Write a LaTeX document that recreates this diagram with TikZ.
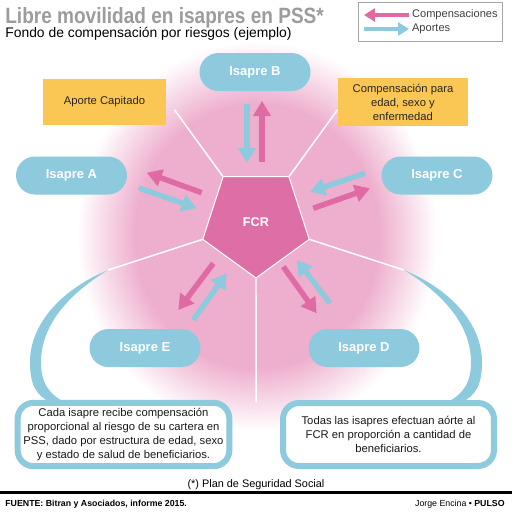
\documentclass[tikz,border=0pt]{standalone}
\usepackage{fontspec}
\usepackage{graphicx}
\setmainfont{Liberation Sans}
\usetikzlibrary{arrows.meta,shapes.geometric,positioning,calc}

\definecolor{isablue}{HTML}{8DCADD}
\definecolor{fcrpink}{HTML}{DE6EA6}
\definecolor{arrowpink}{HTML}{E06AA4}
\definecolor{glowpink}{HTML}{EEAFCE}
\definecolor{notegold}{HTML}{FAC654}
\definecolor{titlegray}{HTML}{9C9C9C}

\pgfdeclareradialshading{fcrglow}{\pgfpoint{0bp}{0bp}}{color(0bp)=(glowpink); color(17bp)=(glowpink); color(25bp)=(white); color(50bp)=(white)}

\begin{document}
\begin{tikzpicture}[x=0.02cm, y=-0.02cm,
    isapre/.style={rectangle, rounded corners=0.38cm, fill=isablue, minimum width=2.22cm, minimum height=0.76cm, text=white, font=\bfseries\fontsize{7.4}{9}\selectfont},
    notebox/.style={rectangle, fill=notegold, minimum height=0.92cm, align=center, text=black!85, font=\fontsize{6.4}{8}\selectfont},
    infobox/.style={rectangle, draw=isablue, line width=0.12cm, rounded corners=0.32cm, fill=white, minimum height=1.26cm, align=center, text=black!90, font=\fontsize{6.4}{7.8}\selectfont},
    comp/.style={arrowpink, line width=0.11cm, -{Triangle[length=0.3cm, width=0.34cm]}},
    aporte/.style={isablue, line width=0.11cm, -{Triangle[length=0.3cm, width=0.34cm]}},
    legcomp/.style={arrowpink, line width=0.08cm, -{Triangle[length=0.22cm, width=0.26cm]}},
    legaporte/.style={isablue, line width=0.08cm, -{Triangle[length=0.22cm, width=0.26cm]}},
    spoke/.style={white, line width=0.03cm},
    legtext/.style={anchor=west, inner sep=1pt, text=black!75, font=\fontsize{6.3}{8}\selectfont}]

    \useasboundingbox (0,0) rectangle (512,512);
    \fill[white] (0,0) rectangle (512,512);

    % pink glow behind the fund
    \shade[shading=fcrglow] (257,236) ellipse [x radius=3.6cm, y radius=3.9cm];

    \node[regular polygon, regular polygon sides=5, shape border rotate=180, minimum size=2.24cm, inner sep=0pt,
          fill=fcrpink, draw=white, line width=0.02cm, text=white, font=\bfseries\fontsize{7.2}{9}\selectfont] (fcr) at (256,222) {FCR};

    \coordinate (spokeL) at ($(fcr.center)!2.75!(fcr.198)$);
    \coordinate (spokeR) at ($(fcr.center)!2.75!(fcr.342)$);
    \draw[spoke] (fcr.126) -- ($(fcr.center)!2.45!(fcr.126)$);
    \draw[spoke] (fcr.54) -- ($(fcr.center)!2.45!(fcr.54)$);
    \draw[spoke] (fcr.198) -- (spokeL);
    \draw[spoke] (fcr.342) -- (spokeR);
    \draw[spoke] (fcr.270) -- ($(fcr.center)!3.18!(fcr.270)$);

    % tapered blue arcs down to the notes
    \fill[isablue] (spokeL) .. controls (60,290) and (30,325) .. (30,362) .. controls (30,385) and (36,395) .. (50,402)
        -- (64,402) .. controls (46,392) and (41,380) .. (41,362) .. controls (41,330) and (62,298) .. (spokeL) -- cycle;
    \fill[isablue] (spokeR) .. controls (452,290) and (482,325) .. (482,362) .. controls (482,385) and (476,395) .. (462,402)
        -- (448,402) .. controls (466,392) and (471,380) .. (471,362) .. controls (471,330) and (450,298) .. (spokeR) -- cycle;

    \node[infobox, minimum width=4.14cm] (notaE) at (123.5,434.5) {Cada isapre recibe compensación\\proporcional al riesgo de su cartera en\\PSS, dado por estructura de edad, sexo\\y estado de salud de beneficiarios.};
    \node[infobox, minimum width=4.22cm] (notaD) at (388.5,434.5) {Todas las isapres efectuan aórte al\\FCR en proporción a cantidad de\\beneficiarios.};

    \node[isapre] (isB) at (255,72) {Isapre B};
    \node[isapre] (isA) at (71.5,175.5) {Isapre A};
    \node[isapre] (isC) at (437,175.5) {Isapre C};
    \node[isapre] (isE) at (145,348) {Isapre E};
    \node[isapre] (isD) at (364,348) {Isapre D};

    \node[notebox, minimum width=2.46cm] (capitado) at (104.5,102) {Aporte Capitado};
    \node[notebox, minimum width=2.6cm] (ajuste) at (403,102) {Compensación para\\edad, sexo y\\enfermedad};

    % flows between the isapres and the fund
    \foreach \xa/\ya/\xb/\yb in {262/162/262/101, 201.7/192.7/146.7/172.7, 313.3/208.3/370/188.3,
                                 213.3/263.3/178.3/310, 283.3/266.7/316.7/313.3}
        \draw[comp] (\xa,\ya) -- (\xb,\yb);
    \foreach \xa/\ya/\xb/\yb in {247/104/247/163, 139/188/196.7/208, 365/173.3/310/191.7,
                                 193.3/320/226.7/273.3, 330/303.3/296.7/260}
        \draw[aporte] (\xa,\ya) -- (\xb,\yb);

    % title
    \node[anchor=base west, inner sep=0pt, text=titlegray, font=\bfseries\fontsize{12.6}{14}\selectfont] (titulo) at (5,23)
        {\scalebox{0.86}[1]{Libre movilidad en isapres en PSS*}};
    \node[anchor=base west, inner sep=0pt, font=\fontsize{7.9}{9}\selectfont] (subtitulo) at (5,37)
        {Fondo de compensación por riesgos (ejemplo)};

    % legend
    \node[draw=black!35, line width=0.02cm, minimum width=2.9cm, minimum height=0.78cm] (leyenda) at (430.5,21.5) {};
    \node[legtext] (legC) at (410,15) {Compensaciones};
    \node[legtext] (legA) at (410,29) {Aportes};
    \draw[legcomp] ([xshift=-0.02cm]legC.west) -- ++(-45,0);
    \draw[legaporte] ($(legA.west)+(-46,0)$) -- ([xshift=-0.02cm]legA.west);

    % footer
    \node[anchor=base, font=\fontsize{6.2}{7}\selectfont] (pss) at (256,487) {(*) Plan de Seguridad Social};
    \draw[line width=0.06cm] (0,492) -- (512,492);
    \node[anchor=base west, inner sep=0pt, font=\bfseries\fontsize{5}{6}\selectfont] (fuente) at (5,506) {FUENTE: Bitran y Asociados, informe 2015.};
    \node[anchor=base east, inner sep=0pt, font=\fontsize{5}{6}\selectfont] (firma) at (505,506) {Jorge Encina \textbullet\ \textbf{PULSO}};
\end{tikzpicture}
\end{document}
